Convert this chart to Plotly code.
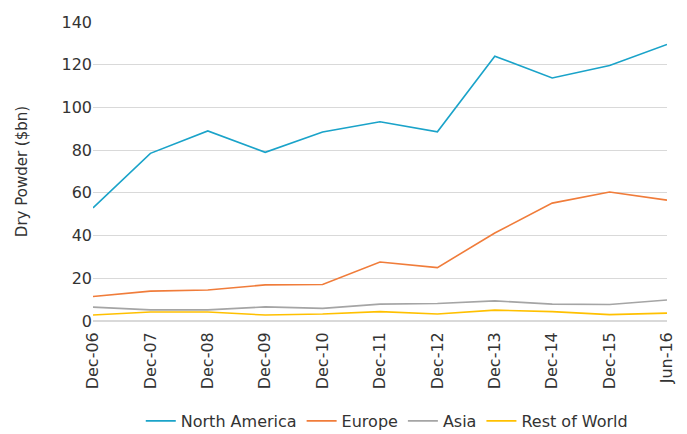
import plotly.graph_objects as go

categories = ["Dec-06", "Dec-07", "Dec-08", "Dec-09", "Dec-10", "Dec-11",
              "Dec-12", "Dec-13", "Dec-14", "Dec-15", "Jun-16"]
north_america = [53, 78.5, 89, 79, 88.5, 93.3, 88.6, 124, 113.8, 119.6, 129.5]
europe = [11.5, 14, 14.5, 16.9, 17.1, 27.6, 25, 41.2, 55.2, 60.4, 56.6]
asia = [6.5, 5.2, 5.2, 6.6, 5.9, 7.9, 8.2, 9.4, 7.9, 7.7, 9.8]
rest_of_world = [2.8, 4.2, 4.2, 2.8, 3.3, 4.4, 3.3, 5.1, 4.4, 3.0, 3.7]
y_ticks = [0, 20, 40, 60, 80, 100, 120, 140]

series = [
    ("North America", north_america, "#1AA3C9"),
    ("Europe", europe, "#F07C3A"),
    ("Asia", asia, "#A5A5A5"),
    ("Rest of World", rest_of_world, "#FFC000"),
]

fig = go.Figure()
for name, vals, color in series:
    fig.add_trace(go.Scatter(x=categories, y=vals, name=name, mode="lines",
                             line=dict(color=color, width=1.6)))

font_family = "'DejaVu Sans', sans-serif"
txt = "#333333"
fig.update_layout(
    width=687, height=434,
    margin=dict(l=93, r=20, t=22, b=113),
    paper_bgcolor="white", plot_bgcolor="white",
    font=dict(family=font_family, size=16, color=txt),
    showlegend=True,
    legend=dict(orientation="h", x=0.563, xanchor="center", xref="container",
                y=0.03, yanchor="middle", yref="container",
                font=dict(size=16, color=txt), itemwidth=30),
    xaxis=dict(type="category", tickangle=-90, showgrid=False, ticks="",
               range=[0, 10], showline=False, zeroline=False, automargin=False,
               ticklabelstandoff=7,
               tickfont=dict(size=16, color=txt)),
    yaxis=dict(range=[0, 140], tickvals=y_ticks, showgrid=True,
               gridcolor="#D9D9D9", gridwidth=1, zeroline=True,
               zerolinecolor="#D9D9D9", zerolinewidth=2,
               ticks="", showline=False, automargin=False,
               tickfont=dict(size=16, color=txt),
               title=dict(text="Dry Powder ($bn)", font=dict(size=15, color=txt),
                          standoff=30)),
)

fig.write_html("out.html", config={"displayModeBar": False},
               post_script="document.body.style.margin='0';document.body.style.padding='0';")
